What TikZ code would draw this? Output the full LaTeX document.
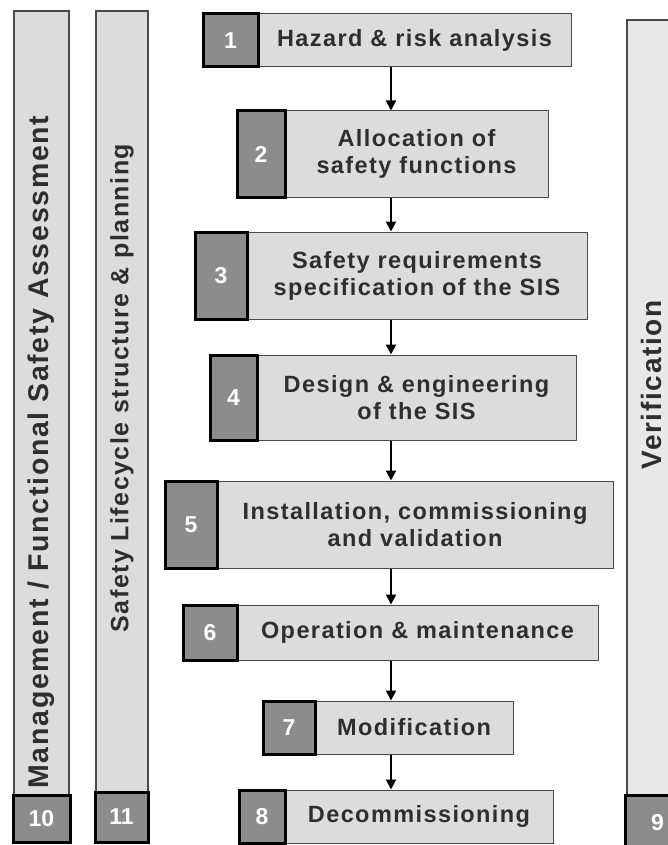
\documentclass[tikz,border=0pt]{standalone}
\usepackage{fontspec}
\setmainfont{Liberation Sans}
\newfontfamily\stepfont[LetterSpace=6]{Liberation Sans}
\usepackage{xcolor}
\definecolor{cBox}{HTML}{DCDCDC}
\definecolor{cBarLight}{HTML}{E8E8E8}
\definecolor{cNum}{HTML}{8C8C8C}
\definecolor{cEdge}{HTML}{4A4A4A}
\definecolor{cText}{HTML}{2E2E2E}
\usetikzlibrary{arrows.meta,positioning}
\tikzset{
  step-box/.style={draw=cEdge,line width=1pt,fill=cBox,inner sep=0pt,align=center,
    font=\stepfont\bfseries\fontsize{23.5}{27}\selectfont,text=cText},
  step-num/.style={draw=black,line width=3pt,fill=cNum,inner sep=0pt,
    font=\bfseries\fontsize{23}{26}\selectfont,text=white},
  side-bar/.style={draw=cEdge,line width=1.2pt,fill=cBox,inner sep=0pt},
  side-label/.style={rotate=90,inner sep=0pt,text=cText},
  arrow/.style={-{Triangle[width=10pt,length=10pt]},line width=2pt,draw=black},
}
\begin{document}
\begin{tikzpicture}[x=1pt,y=-1pt]
  \useasboundingbox (0,0) rectangle (668,845);
  \clip (0,0) rectangle (668,845);
  % side bars
  \node[side-bar,minimum width=55pt,minimum height=784pt] (bar10) at (41.5,403) {};
  \node[side-bar,minimum width=52pt,minimum height=781pt] (bar11) at (122,401.5) {};
  \node[side-bar,fill=cBarLight,minimum width=53pt,minimum height=775pt] (bar9) at (653.5,407.5) {};
  \node[side-label,font=\stepfont\bfseries\fontsize{28.5}{30}\selectfont] (lab10) at (41.5,452)
    {Management / Functional Safety Assessment};
  \node[side-label,font=\stepfont\bfseries\fontsize{25}{30}\selectfont] (lab11) at (122,388)
    {Safety Lifecycle structure \& planning};
  \node[side-label,font=\stepfont\bfseries\fontsize{28}{30}\selectfont] (lab9) at (651,385)
    {Verification};
  \node[step-num,minimum width=57pt,minimum height=47pt] (n10) at (41.5,818.5) {10};
  \node[step-num,minimum width=53pt,minimum height=50pt] (n11) at (121.5,817) {11};
  \node[step-num,minimum width=65pt,minimum height=55pt] (n9) at (657.5,822.5) {9};
  % lifecycle steps: number/square left/box left/box right/top/bottom/text
  \foreach \i/\xa/\xb/\xc/\ya/\yb/\txt in {
      1/203/258/571/14/67/{Hazard \& risk analysis},
      2/237/285/548/111/197/{Allocation of\\safety functions},
      3/195/247/587/232/319/{Safety requirements\\specification of the SIS},
      4/210/257/576/355/440/{Design \& engineering\\of the SIS},
      5/165/217/613/481/568/{Installation, commissioning\\and validation},
      6/183/237/598/605/660/{Operation \& maintenance},
      7/263/315/513/701/754/{Modification},
      8/239/285/553/790/843/{Decommissioning}} {
    \node[step-box,minimum width={(\xc-\xb)*1pt},minimum height={(\yb-\ya)*1pt}]
      (t\i) at ({(\xb+\xc)/2},{(\ya+\yb)/2}) {\txt};
    \node[step-num,minimum width={(\xb-\xa)*1pt},minimum height={(\yb-\ya)*1pt}]
      (n\i) at ({(\xa+\xb)/2},{(\ya+\yb)/2}) {\i};
  }
  % flow arrows
  \coordinate (spine) at (391,0);
  \foreach \i [evaluate=\i as \j using int(\i+1)] in {1,...,7}
    \draw[arrow] (spine |- t\i.south) -- (spine |- t\j.north);
\end{tikzpicture}
\end{document}
